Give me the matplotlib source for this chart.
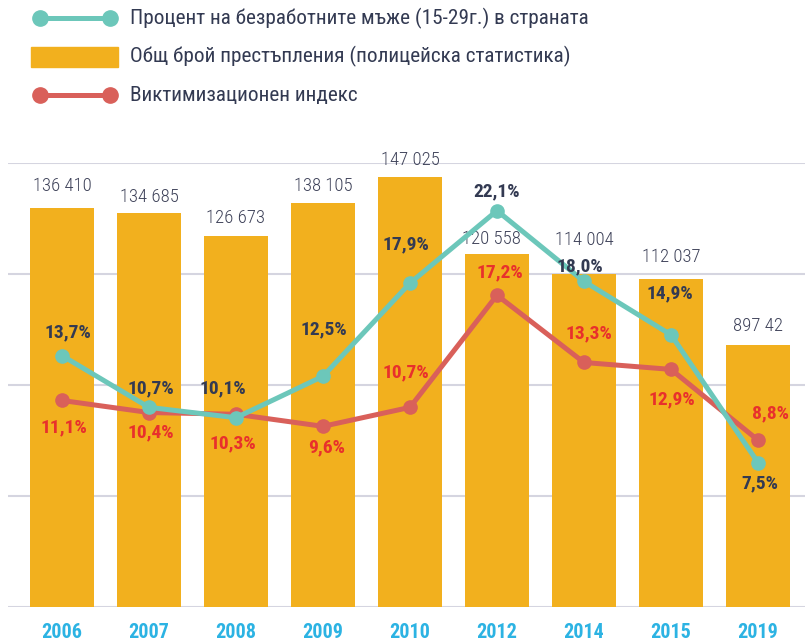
import matplotlib
matplotlib.use("Agg")
import matplotlib.pyplot as plt
from matplotlib import font_manager
from matplotlib.lines import Line2D
from matplotlib.patches import Rectangle

# ---------------- data ----------------
years = ["2006", "2007", "2008", "2009", "2010", "2012", "2014", "2015", "2019"]
crimes = [136410, 134685, 126673, 138105, 147025, 120558, 114004, 112037, 89742]
crime_labels = ["136 410", "134 685", "126 673", "138 105", "147 025",
                "120 558", "114 004", "112 037", "897 42"]
unemployment = [13.7, 10.7, 10.1, 12.5, 17.9, 22.1, 18.0, 14.9, 7.5]
victimization = [11.1, 10.4, 10.3, 9.6, 10.7, 17.2, 13.3, 12.9, 8.8]
legend_labels = ["Процент на безработните мъже (15-29г.) в страната",
                 "Общ брой престъпления (полицейска статистика)",
                 "Виктимизационен индекс"]

# ---------------- style ----------------
names = {f.name for f in font_manager.fontManager.ttflist}
cands = ["Roboto Condensed", "Fira Sans Condensed", "PT Sans Narrow", "Roboto"]
main_font = next((c for c in cands if c in names), "DejaVu Sans")
plt.rcParams["font.family"] = [main_font, "DejaVu Sans"]

BAR = "#F2B01E"
TEAL = "#6CC7BA"
RED_LINE = "#D9605A"
RED_TXT = "#E8302C"
NAVY = "#333A52"
GREY_TXT = "#3E4259"
BLUE = "#2CB3E3"
GRID = "#D5D5E0"

W, H = 805, 642
fig = plt.figure(figsize=(W / 100, H / 100), dpi=100)
fig.patch.set_facecolor("white")

ax = fig.add_axes([8 / W, (H - 607) / H, 797 / W, 444 / H])
x = list(range(len(years)))
ymax = 151800
ax.set_xlim(-0.62, 8.54)
ax.set_ylim(0, ymax)
ax.set_yticks([ymax * i / 4 for i in range(5)])
ax.yaxis.grid(True, color=GRID, lw=1.5, zorder=0)
ax.set_axisbelow(True)
for s in ax.spines.values():
    s.set_visible(False)
ax.set_xticks(x)
ax.set_xticklabels(years, color=BLUE, fontsize=14.5, fontweight="bold")

ax.bar(x, crimes, width=0.736, color=BAR, zorder=2)

ax2 = ax.twinx()
ax2.set_ylim(-0.869, 24.86)
ax2.set_xlim(-0.62, 8.54)
for s in ax2.spines.values():
    s.set_visible(False)
ax2.set_yticks([])
ax.tick_params(axis="y", left=False, right=False, labelleft=False, labelright=False)
ax.tick_params(axis="x", bottom=False, pad=8)
ax2.tick_params(axis="both", left=False, right=False, labelleft=False, labelright=False)

ax2.plot(x, victimization, color=RED_LINE, lw=3.6, marker="o", ms=9.5, zorder=3,
         solid_capstyle="round")
ax2.plot(x, unemployment, color=TEAL, lw=3.6, marker="o", ms=9.5, zorder=4,
         solid_capstyle="round")

# bar value labels (pixel offsets above bar tops)
bar_off = [(0, 22), (0, 16), (0, 18), (0, 17), (0, 17), (-6, 15), (0, 34), (0, 22), (0, 19)]
for i, (v, lab) in enumerate(zip(crimes, crime_labels)):
    ax.annotate(lab, (i, v), xytext=bar_off[i], textcoords="offset pixels",
                ha="center", va="center", fontsize=13.5, fontweight="light",
                color=GREY_TXT, zorder=5)

# percentage labels
teal_off = [(6, 23), (2, 19), (-13, 29), (1, 47), (-4, 39), (0, 19), (-4, 15), (-1, 41), (2, -21)]
red_off = [(2, -27), (2, -20), (-3, -29), (4, -21), (-4, 35), (3, 23), (5, 29), (1, -30), (12, 27)]
fmt = lambda v: f"{v:.1f}".replace(".", ",") + "%"
for i, v in enumerate(unemployment):
    ax2.annotate(fmt(v), (i, v), xytext=teal_off[i], textcoords="offset pixels",
                 ha="center", va="center", fontsize=14, fontweight="bold",
                 color=NAVY, zorder=6)
for i, v in enumerate(victimization):
    ax2.annotate(fmt(v), (i, v), xytext=red_off[i], textcoords="offset pixels",
                 ha="center", va="center", fontsize=14, fontweight="bold",
                 color=RED_TXT, zorder=6)

# ---------------- legend (overlay in pixel coords) ----------------
lg = fig.add_axes([0, 0, 1, 1], facecolor="none")
lg.set_xlim(0, W)
lg.set_ylim(H, 0)
lg.axis("off")
lg.add_line(Line2D([40, 110], [18, 18], color=TEAL, lw=3.6, marker="o", ms=11))
lg.add_patch(Rectangle((31, 47), 87, 20, color=BAR))
lg.add_line(Line2D([40, 110], [95, 95], color=RED_LINE, lw=3.6, marker="o", ms=11))
for yy, t in zip([18, 56, 95], legend_labels):
    lg.text(130, yy, t, ha="left", va="center", fontsize=15.3, color=NAVY)

fig.savefig("out.png", dpi=100, facecolor="white")
